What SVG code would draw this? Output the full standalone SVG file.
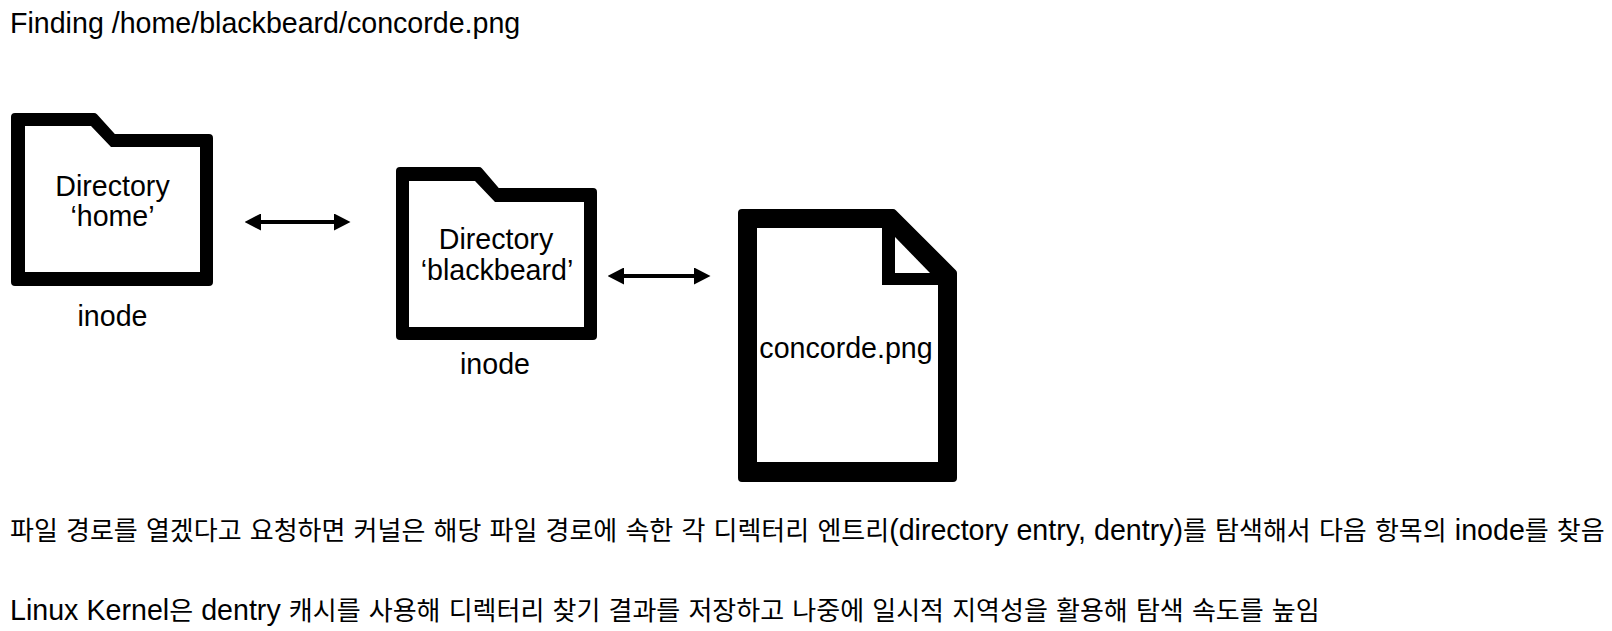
<svg xmlns="http://www.w3.org/2000/svg" width="1612" height="631" viewBox="0 0 1612 631">
<style>
text{font-family:"Liberation Sans","Noto Sans CJK KR",sans-serif;font-size:28.6px;fill:#000}
.m{text-anchor:middle}
.k{font-family:"Noto Sans CJK KR",sans-serif;font-size:26px}
.l{word-spacing:.2px}
.o{fill:#000;stroke:#000;stroke-width:8;stroke-linejoin:round}
.i{fill:#fff}
.c{fill:none;stroke:#000;stroke-width:4}
</style>
<defs>
<marker id="a" viewBox="0 0 16.5 17" refX="0" refY="8.5" markerWidth="16.5" markerHeight="17" markerUnits="userSpaceOnUse" orient="auto-start-reverse"><path d="M0 0L16.5 8.5L0 17Z"/></marker>
</defs>
<rect width="1612" height="631" fill="#fff"/>
<text id="title" x="10" y="33">Finding /home/blackbeard/concorde.png</text>
<g id="dir-home">
<path class="o" d="M15 117H94L113 138H209V282H15Z"/>
<path class="i" d="M25 126H91L111 147H200V272H25Z"/>
<text class="m" x="112.500" y="196">Directory</text>
<text class="m" x="112.500" y="226">‘home’</text>
<text class="m" x="112.500" y="326">inode</text>
</g>
<g id="dir-blackbeard">
<path class="o" d="M400 171H479L497 192H593V336H400Z"/>
<path class="i" d="M409 181H475L495 202H584V327H409Z"/>
<text class="m" x="496" y="249">Directory</text>
<text class="m" x="497" y="280">‘blackbeard’</text>
<text class="m" x="495" y="374">inode</text>
</g>
<g id="file">
<path class="o" d="M742 213H893L953 273V478H742Z"/>
<path class="i" d="M757 228H882V285H938V462H757Z"/>
<path class="i" d="M895 237V273H930Z"/>
<text class="m" x="846" y="358">concorde.png</text>
</g>
<g id="connectors">
<line class="c" x1="261" y1="222" x2="334" y2="222" marker-start="url(#a)" marker-end="url(#a)"/>
<line class="c" x1="624" y1="276" x2="694" y2="276" marker-start="url(#a)" marker-end="url(#a)"/>
</g>
<text id="line1" class="l" x="10" y="539.500"><tspan class="k">파일</tspan> <tspan class="k">경로를</tspan> <tspan class="k">열겠다고</tspan> <tspan class="k">요청하면</tspan> <tspan class="k">커널은</tspan> <tspan class="k">해당</tspan> <tspan class="k">파일</tspan> <tspan class="k">경로에</tspan> <tspan class="k">속한</tspan> <tspan class="k">각</tspan> <tspan class="k">디렉터리</tspan> <tspan class="k">엔트리</tspan>(directory entry, dentry)<tspan class="k">를</tspan> <tspan class="k">탐색해서</tspan> <tspan class="k">다음</tspan> <tspan class="k">항목의</tspan> inode<tspan class="k">를</tspan> <tspan class="k">찾음</tspan></text>
<text id="line2" class="l" x="10" y="620"><tspan>Linux Kernel</tspan><tspan class="k">은</tspan> dentry <tspan class="k">캐시를</tspan> <tspan class="k">사용해</tspan> <tspan class="k">디렉터리</tspan> <tspan class="k">찾기</tspan> <tspan class="k">결과를</tspan> <tspan class="k">저장하고</tspan> <tspan class="k">나중에</tspan> <tspan class="k">일시적</tspan> <tspan class="k">지역성을</tspan> <tspan class="k">활용해</tspan> <tspan class="k">탐색</tspan> <tspan class="k">속도를</tspan> <tspan class="k">높임</tspan></text>
</svg>
